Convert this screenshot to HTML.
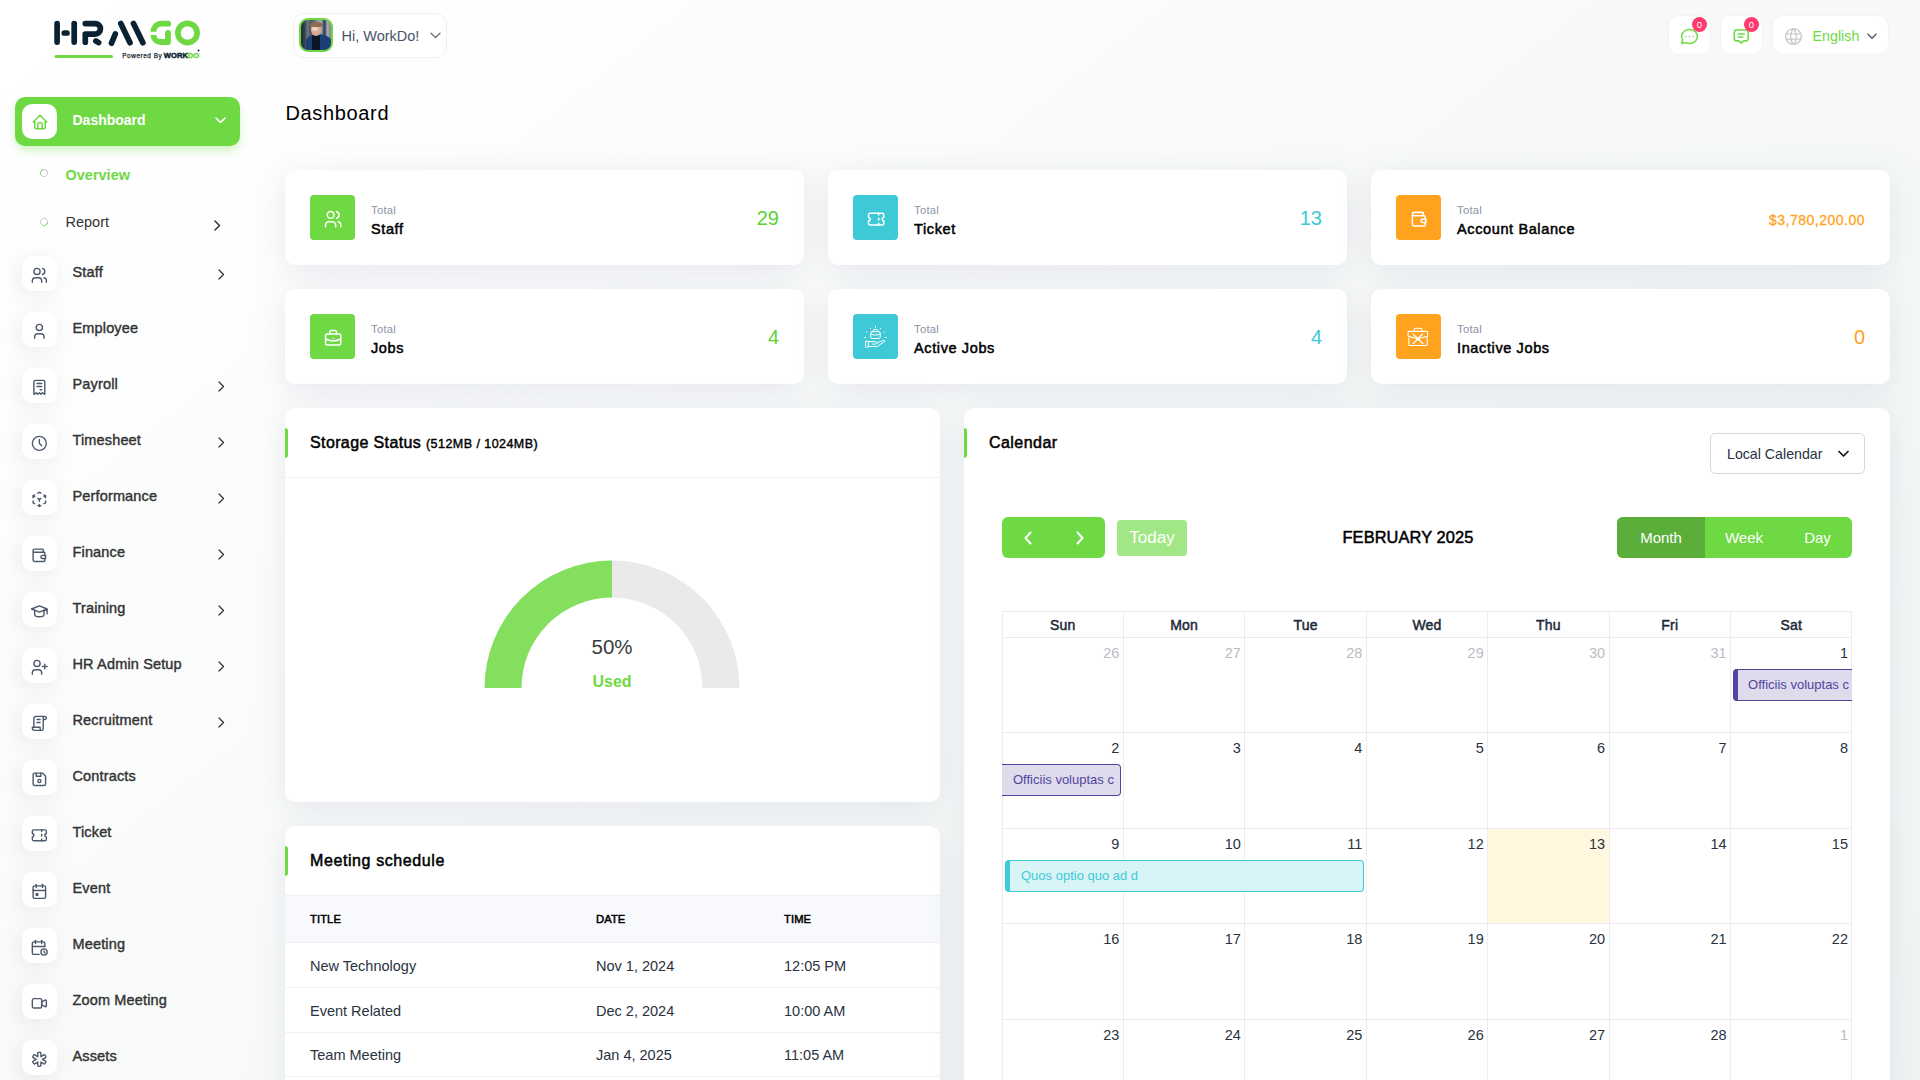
<!DOCTYPE html>
<html><head><meta charset="utf-8"><title>Dashboard</title>
<style>
*{box-sizing:border-box;margin:0;padding:0}
html,body{width:1920px;height:1080px;overflow:hidden}
body{font-family:"Liberation Sans",sans-serif;color:#293240;position:relative;
background:linear-gradient(141.55deg,rgba(240,244,243,0) 3.46%,#f0f4f3 99.86%),#fff;}
.abs{position:absolute}
svg{display:block}
.ic{fill:none;stroke:currentColor;stroke-linecap:round;stroke-linejoin:round}
/* sidebar */
.nav{position:absolute;left:0;height:35px;width:255px}
.nav .box{position:absolute;left:22px;top:0;width:35px;height:35px;border-radius:10px;background:#fff;box-shadow:-3px 4px 23px rgba(0,0,0,.08);color:#4d586c}
.nav .box svg{position:absolute;left:9.5px;top:9.5px}
.nav .t{position:absolute;left:72.5px;top:-1.2px;line-height:35px;font-size:14.5px;font-weight:normal;-webkit-text-stroke:.4px #333;letter-spacing:.15px;color:#333;white-space:nowrap}
.chev{position:absolute}
/* cards */
.card{position:absolute;background:#fff;border-radius:10px;box-shadow:0 6px 30px rgba(182,186,203,.3)}
.stat .ib{position:absolute;left:25px;top:25px;width:45px;height:45px;border-radius:4px;color:#fff}
.stat .ib svg{position:absolute}
.stat .tl{position:absolute;left:86px;top:32.7px;font-size:11.2px;letter-spacing:.3px;color:#8a94a6;line-height:14px}
.stat .nm{position:absolute;left:86px;top:50px;font-size:14.5px;font-weight:normal;-webkit-text-stroke:.5px #000;letter-spacing:.62px;color:#000;line-height:18px;white-space:nowrap}
.stat .v{position:absolute;right:25px;top:35.8px;font-size:20px;line-height:24px}
.g{background:#6fd943}.c{background:#3ec9d6}.o{background:#ffa21d}
.hbar{position:absolute;left:0;width:3px;height:30px;background:#6fd943;border-radius:0 3px 3px 0}
.htitle{position:absolute;font-size:16px;font-weight:normal;-webkit-text-stroke:.5px #000;letter-spacing:.45px;color:#000;white-space:nowrap}

.th{font-size:11.2px;-webkit-text-stroke:.5px #000;color:#000;line-height:14px;letter-spacing:.1px}
.tr{left:0;right:0;height:45px;border-bottom:1px solid #f1f1f1}
.tr span{position:absolute;top:1.8px;line-height:43px;font-size:14.5px;color:#293240;white-space:nowrap}
.calh{height:26px;line-height:28px;text-align:center;font-size:14px;-webkit-text-stroke:.5px #1e2a3a;letter-spacing:.2px;color:#1e2a3a}
.caln{width:56px;text-align:right;font-size:14.5px;line-height:18px}
.ev{overflow:hidden;white-space:nowrap}
.ev span{position:absolute;top:0;line-height:29px;font-size:13px}
</style></head>
<body>
<!-- LOGO -->
<svg class="abs" style="left:0;top:0" width="220" height="70" viewBox="0 0 220 70">
 <g fill="none" stroke="#0b2233" stroke-width="5.7" stroke-linecap="round" stroke-linejoin="round">
  <path d="M57.1 23.5V42.1"/>
  <path d="M64.3 33H67"/>
  <path d="M74.2 23.5V42.1"/>
  <path d="M85.3 23.6H95.2A5.25 5.25 0 0 1 95.2 34.1H85.3V42.2"/>
  <path d="M95.9 41L98.6 42.6"/>
  <path d="M111.5 43.2L115.3 34"/>
  <path d="M120.8 23.5L130 42.7"/>
  <path d="M133.5 23.5L142.9 42.7"/>
 </g>
 <g fill="none" stroke="#6fd943" stroke-width="5.8" stroke-linejoin="round">
  <path d="M168.2 23.7H161.5A8 8 0 0 0 153.5 31.7" stroke-linecap="butt"/>
  <circle cx="168.2" cy="23.7" r="2.9" fill="#6fd943" stroke="none"/>
  <path d="M153.5 35A7 7 0 0 0 160.5 42H168V32.8" stroke-linecap="butt"/>
  <circle cx="168" cy="32.8" r="2.9" fill="#6fd943" stroke="none"/>
  <circle cx="187.5" cy="32.9" r="9.6"/>
  <path d="M56 56.5H111.5" stroke-width="3" stroke-linecap="round"/>
 </g>
 <text x="122.3" y="58.4" font-family="Liberation Sans" font-size="6.4" fill="#1b2a36" stroke="#1b2a36" stroke-width="0.25" textLength="39.5" lengthAdjust="spacing">Powered By</text>
 <text x="163.8" y="58.4" font-family="Liberation Sans" font-size="7.6" font-weight="bold" fill="#0b2233" stroke="#0b2233" stroke-width="0.45" textLength="35.5" lengthAdjust="spacingAndGlyphs">WORK<tspan fill="#6fd943" stroke="#6fd943">DO</tspan></text>
 <circle cx="198.5" cy="50.5" r="1" fill="#0b2233"/>
</svg>

<!-- SIDEBAR -->
<div class="abs" style="left:15px;top:97px;width:225px;height:49px;border-radius:10px;background:#6fd943;box-shadow:0 5px 9px -1px rgba(111,217,67,.35)">
 <div class="abs" style="left:7px;top:7px;width:35px;height:35px;border-radius:10px;background:#fff;color:#6fd943">
  <svg class="ic abs" style="left:8.5px;top:8.5px" width="18" height="18" viewBox="0 0 24 24" stroke-width="2"><path d="M5 12H3l9-9 9 9h-2"/><path d="M5 12v7a2 2 0 0 0 2 2h10a2 2 0 0 0 2-2v-7"/><path d="M9 21v-6a2 2 0 0 1 2-2h2a2 2 0 0 1 2 2v6"/></svg>
 </div>
 <div class="abs" style="left:57.5px;top:0;line-height:47px;font-size:14px;font-weight:bold;color:#fff">Dashboard</div>
 <svg class="abs ic" style="left:200px;top:20px;color:#fff" width="11" height="7" viewBox="0 0 11 7" stroke-width="1.6"><path d="M1 1l4.5 4.5L10 1"/></svg>
</div>

<div class="abs" style="left:40.1px;top:169px;width:7.8px;height:7.8px;border-radius:50%;border:1.9px solid #c8cdd6;border-left-color:#6fd943;transform:rotate(25deg)"></div>
<div class="abs" style="left:65.5px;top:166.5px;font-size:14.5px;font-weight:bold;color:#6fd943;line-height:17px">Overview</div>
<div class="abs" style="left:40.1px;top:217.5px;width:7.8px;height:7.8px;border-radius:50%;border:1.9px solid #c8cdd6;border-bottom-color:#6fd943;transform:rotate(-35deg)"></div>
<div class="abs" style="left:65.5px;top:214px;font-size:14.5px;color:#333;line-height:17px">Report</div>
<svg class="abs ic" style="left:213px;top:219.5px;color:#333" width="8" height="11" viewBox="0 0 8 11" stroke-width="1.5"><path d="M2 1l4.5 4.5L2 10"/></svg>

<div class="nav" style="top:256px"><div class="box"><svg class="ic" style="position:absolute;left:8.4px;top:9.6px;" width="18.7" height="18.7" viewBox="0 0 24 24" stroke-width="1.8"><path d="M5 7a4 4 0 1 0 8 0a4 4 0 1 0-8 0"/><path d="M3 21v-2a4 4 0 0 1 4-4h4a4 4 0 0 1 4 4v2"/><path d="M16 3.13a4 4 0 0 1 0 7.75"/><path d="M21 21v-2a4 4 0 0 0-3-3.85"/></svg></div><div class="t">Staff</div><svg class="chev ic" style="left:217px;top:13.3px;color:#333" width="8" height="11" viewBox="0 0 8 11" stroke-width="1.3"><path d="M2 1l4.5 4.5L2 10"/></svg></div>
<div class="nav" style="top:312px"><div class="box"><svg class="ic" style="position:absolute;left:8.4px;top:9.6px;" width="18.7" height="18.7" viewBox="0 0 24 24" stroke-width="1.8"><path d="M8 7a4 4 0 1 0 8 0a4 4 0 0 0-8 0"/><path d="M6 21v-2a4 4 0 0 1 4-4h4a4 4 0 0 1 4 4v2"/></svg></div><div class="t">Employee</div></div>
<div class="nav" style="top:368px"><div class="box"><svg class="ic" style="position:absolute;left:8.4px;top:9.6px;" width="18.7" height="18.7" viewBox="0 0 24 24" stroke-width="1.8"><path d="M5 21V5a2 2 0 0 1 2-2h10a2 2 0 0 1 2 2v16l-3-2-2 2-2-2-2 2-2-2-3 2m4-14h6m-6 4h6m-2 4h2"/></svg></div><div class="t">Payroll</div><svg class="chev ic" style="left:217px;top:13.3px;color:#333" width="8" height="11" viewBox="0 0 8 11" stroke-width="1.3"><path d="M2 1l4.5 4.5L2 10"/></svg></div>
<div class="nav" style="top:424px"><div class="box"><svg class="ic" style="position:absolute;left:8.4px;top:9.6px;" width="18.7" height="18.7" viewBox="0 0 24 24" stroke-width="1.8"><path d="M3 12a9 9 0 1 0 18 0a9 9 0 0 0-18 0"/><path d="M12 7v5l3 3"/></svg></div><div class="t">Timesheet</div><svg class="chev ic" style="left:217px;top:13.3px;color:#333" width="8" height="11" viewBox="0 0 8 11" stroke-width="1.3"><path d="M2 1l4.5 4.5L2 10"/></svg></div>
<div class="nav" style="top:480px"><div class="box"><svg class="ic" style="position:absolute;left:8.4px;top:9.6px;" width="18.7" height="18.7" viewBox="0 0 24 24" stroke-width="1.8"><path d="M6 17.6l-2-1.1V14"/><path d="M4 10V7.5l2-1.1"/><path d="M10 4.1l2-1.1 2 1.1"/><path d="M18 6.4l2 1.1V10"/><path d="M20 14v2.5l-2 1.12"/><path d="M14 19.9l-2 1.1-2-1.1"/><path d="M12 12l2-1.1"/><path d="M18 8.6l2-1.1"/><path d="M12 12v2.5"/><path d="M12 18.5V21"/><path d="M12 12l-2-1.12"/><path d="M6 8.6L4 7.5"/></svg></div><div class="t">Performance</div><svg class="chev ic" style="left:217px;top:13.3px;color:#333" width="8" height="11" viewBox="0 0 8 11" stroke-width="1.3"><path d="M2 1l4.5 4.5L2 10"/></svg></div>
<div class="nav" style="top:536px"><div class="box"><svg class="ic" style="position:absolute;left:8.4px;top:9.6px;" width="18.7" height="18.7" viewBox="0 0 24 24" stroke-width="1.8"><path d="M17 8V5a1 1 0 0 0-1-1H6a2 2 0 0 0 0 4h12a1 1 0 0 1 1 1v3m0 4v3a1 1 0 0 1-1 1H6a2 2 0 0 1-2-2V6"/><path d="M20 12v4h-4a2 2 0 0 1 0-4h4"/></svg></div><div class="t">Finance</div><svg class="chev ic" style="left:217px;top:13.3px;color:#333" width="8" height="11" viewBox="0 0 8 11" stroke-width="1.3"><path d="M2 1l4.5 4.5L2 10"/></svg></div>
<div class="nav" style="top:592px"><div class="box"><svg class="ic" style="position:absolute;left:8.4px;top:9.6px;" width="18.7" height="18.7" viewBox="0 0 24 24" stroke-width="1.8"><path d="M22 9L12 5 2 9l10 4 10-4v6"/><path d="M6 10.6V16a6 3 0 0 0 12 0v-5.4"/></svg></div><div class="t">Training</div><svg class="chev ic" style="left:217px;top:13.3px;color:#333" width="8" height="11" viewBox="0 0 8 11" stroke-width="1.3"><path d="M2 1l4.5 4.5L2 10"/></svg></div>
<div class="nav" style="top:648px"><div class="box"><svg class="ic" style="position:absolute;left:8.4px;top:9.6px;" width="18.7" height="18.7" viewBox="0 0 24 24" stroke-width="1.8"><path d="M5 7a4 4 0 1 0 8 0a4 4 0 1 0-8 0"/><path d="M3 21v-2a4 4 0 0 1 4-4h4a4 4 0 0 1 4 4v2"/><path d="M16 11h6m-3-3v6"/></svg></div><div class="t">HR Admin Setup</div><svg class="chev ic" style="left:217px;top:13.3px;color:#333" width="8" height="11" viewBox="0 0 8 11" stroke-width="1.3"><path d="M2 1l4.5 4.5L2 10"/></svg></div>
<div class="nav" style="top:704px"><div class="box"><svg class="ic" style="position:absolute;left:8.4px;top:9.6px;" width="18.7" height="18.7" viewBox="0 0 24 24" stroke-width="1.8"><path d="M15 21H6a3 3 0 0 1-3-3v-1h10v2a2 2 0 0 0 4 0V5a2 2 0 1 1 2 2h-2m2-4H8a3 3 0 0 0-3 3v11"/><path d="M9 7h4"/><path d="M9 11h4"/></svg></div><div class="t">Recruitment</div><svg class="chev ic" style="left:217px;top:13.3px;color:#333" width="8" height="11" viewBox="0 0 8 11" stroke-width="1.3"><path d="M2 1l4.5 4.5L2 10"/></svg></div>
<div class="nav" style="top:760px"><div class="box"><svg class="ic" style="position:absolute;left:8.4px;top:9.6px;" width="18.7" height="18.7" viewBox="0 0 24 24" stroke-width="1.8"><path d="M6 4h10l4 4v10a2 2 0 0 1-2 2H6a2 2 0 0 1-2-2V6a2 2 0 0 1 2-2"/><path d="M10 14a2 2 0 1 0 4 0a2 2 0 1 0-4 0"/><path d="M14 4v4H8V4"/></svg></div><div class="t">Contracts</div></div>
<div class="nav" style="top:816px"><div class="box"><svg class="ic" style="position:absolute;left:8.4px;top:9.6px;" width="18.7" height="18.7" viewBox="0 0 24 24" stroke-width="1.8"><path d="M15 5v2"/><path d="M15 11v2"/><path d="M15 17v2"/><path d="M5 5h14a2 2 0 0 1 2 2v3a2 2 0 0 0 0 4v3a2 2 0 0 1-2 2H5a2 2 0 0 1-2-2v-3a2 2 0 0 0 0-4V7a2 2 0 0 1 2-2"/></svg></div><div class="t">Ticket</div></div>
<div class="nav" style="top:872px"><div class="box"><svg class="ic" style="position:absolute;left:8.4px;top:9.6px;" width="18.7" height="18.7" viewBox="0 0 24 24" stroke-width="1.8"><path d="M4 7a2 2 0 0 1 2-2h12a2 2 0 0 1 2 2v12a2 2 0 0 1-2 2H6a2 2 0 0 1-2-2z"/><path d="M16 3v4"/><path d="M8 3v4"/><path d="M4 11h16"/><path d="M8 15h2v2H8z"/></svg></div><div class="t">Event</div></div>
<div class="nav" style="top:928px"><div class="box"><svg class="ic" style="position:absolute;left:8.4px;top:9.6px;" width="18.7" height="18.7" viewBox="0 0 24 24" stroke-width="1.8"><path d="M11.795 21H5a2 2 0 0 1-2-2V7a2 2 0 0 1 2-2h12a2 2 0 0 1 2 2v4"/><path d="M14 18a4 4 0 1 0 8 0a4 4 0 1 0-8 0"/><path d="M15 3v4"/><path d="M7 3v4"/><path d="M3 11h16"/><path d="M18 16.496V18l1 1"/></svg></div><div class="t">Meeting</div></div>
<div class="nav" style="top:984px"><div class="box"><svg class="ic" style="position:absolute;left:8.4px;top:9.6px;" width="18.7" height="18.7" viewBox="0 0 24 24" stroke-width="1.8"><path d="M15 10l4.553-2.276A1 1 0 0 1 21 8.618v6.764a1 1 0 0 1-1.447.894L15 14v-4z"/><path d="M3 8a2 2 0 0 1 2-2h8a2 2 0 0 1 2 2v8a2 2 0 0 1-2 2H5a2 2 0 0 1-2-2z"/></svg></div><div class="t">Zoom Meeting</div></div>
<div class="nav" style="top:1040px"><div class="box"><svg class="ic" style="position:absolute;left:8.4px;top:9.6px;" width="18.7" height="18.7" viewBox="0 0 24 24" stroke-width="1.8"><path d="M13 3a1 1 0 0 1 1 1v4.535l3.928-2.267a1 1 0 0 1 1.366.366l1 1.732a1 1 0 0 1-.366 1.366L16.001 12l3.927 2.269a1 1 0 0 1 .366 1.366l-1 1.732a1 1 0 0 1-1.366.366L14 15.464V20a1 1 0 0 1-1 1h-2a1 1 0 0 1-1-1v-4.536l-3.928 2.268a1 1 0 0 1-1.366-.366l-1-1.732a1 1 0 0 1 .366-1.366L7.999 12 4.072 9.732a1 1 0 0 1-.366-1.366l1-1.732a1 1 0 0 1 1.366-.366L10 8.535V4a1 1 0 0 1 1-1h2z"/></svg></div><div class="t">Assets</div></div>

<!-- HEADER -->
<div class="abs" style="left:293px;top:13px;width:154px;height:45px;border-radius:11px;background:#fff;border:1px solid #f0f0f0">
 <div class="abs" style="left:5.3px;top:4.3px;width:33.5px;height:33.5px;border-radius:9px;border:2px solid #6fd943;overflow:hidden;background:linear-gradient(90deg,#1e2a34 0%,#34414c 12%,#6a7782 22%,#4c5964 32%,#55626c 40%,#8c98a2 55%,#9aa5ae 68%,#2f3a44 78%,#a2acb4 88%,#7d8892 100%)">
  <div class="abs" style="left:4.5px;top:13.5px;width:26px;height:18px;border-radius:45% 50% 0 0;background:#1d3f78"></div>
  <div class="abs" style="left:10.5px;top:14px;width:8px;height:16px;border-radius:30% 30% 0 0;background:#0b1628"></div>
  <div class="abs" style="left:9.3px;top:3.2px;width:10.5px;height:13px;border-radius:45% 45% 50% 50%;background:#d9ab93"></div>
  <div class="abs" style="left:11px;top:6px;width:6px;height:5px;border-radius:50%;background:#efd2c2"></div>
  <div class="abs" style="left:8.8px;top:1.4px;width:11.5px;height:5px;border-radius:50% 50% 25% 25%;background:#8d6c4f"></div>
 </div>
 <div class="abs" style="left:47.5px;top:12px;font-size:14.5px;line-height:20px;color:#48546a;white-space:nowrap">Hi, WorkDo!</div>
 <svg class="abs ic" style="left:135.8px;top:17.8px;color:#6c757d" width="11" height="7" viewBox="0 0 11 7" stroke-width="1.4"><path d="M1 1.2l4.5 4.3L10 1.2"/></svg>
</div>

<div class="abs" style="left:1668px;top:15px;width:43px;height:40px;border-radius:10px;background:#fff;border:1px solid #f3f3f3"></div>
<div class="abs" style="left:1720px;top:15px;width:43px;height:40px;border-radius:10px;background:#fff;border:1px solid #f3f3f3"></div>
<svg class="abs ic" style="left:1679px;top:26px;color:#6fd943" width="21" height="21" viewBox="0 0 24 24" stroke-width="1.7"><path d="M3 20l1.3-3.9C1.976 12.663 2.874 8.228 6.4 5.726c3.526-2.501 8.59-2.296 11.845.48 3.255 2.777 3.695 7.266 1.029 10.501-2.666 3.235-7.615 4.215-11.574 2.293L3 20"/><path d="M12 12v.01M8 12v.01M16 12v.01"/></svg>
<svg class="abs ic" style="left:1732.3px;top:27px;color:#6fd943" width="18.5" height="18.5" viewBox="0 0 24 24" stroke-width="2"><path d="M8 9h8M8 13h6"/><path d="M9 18H6a3 3 0 0 1-3-3V7a3 3 0 0 1 3-3h12a3 3 0 0 1 3 3v8a3 3 0 0 1-3 3h-3l-3 3-3-3z"/></svg>
<div class="abs" style="left:1692px;top:17.3px;width:15px;height:15px;border-radius:50%;background:#ff3a6e;color:#fff;font-size:9.5px;line-height:15px;text-align:center">0</div>
<div class="abs" style="left:1744px;top:17.3px;width:15px;height:15px;border-radius:50%;background:#ff3a6e;color:#fff;font-size:9.5px;line-height:15px;text-align:center">0</div>

<div class="abs" style="left:1772px;top:15px;width:117px;height:40px;border-radius:11px;background:#fff;border:1px solid #f3f3f3">
 <svg class="abs ic" style="left:10.2px;top:9.5px;color:#c7c9cc" width="21" height="21" viewBox="0 0 24 24" stroke-width="1.6"><path d="M3 12a9 9 0 1 0 18 0 9 9 0 0 0-18 0M3.6 9h16.8M3.6 15h16.8M11.5 3a17 17 0 0 0 0 18M12.5 3a17 17 0 0 1 0 18"/></svg>
 <div class="abs" style="left:39.5px;top:10px;font-size:14.3px;line-height:20px;color:#6fd943">English</div>
 <svg class="abs ic" style="left:94px;top:17px;color:#525b69" width="10" height="7" viewBox="0 0 10 7" stroke-width="1.4"><path d="M1 1.2l4 4l4-4"/></svg>
</div>

<!-- TITLE -->
<div class="abs" style="left:285.5px;top:100.7px;font-size:20px;letter-spacing:.65px;line-height:24px;color:#000">Dashboard</div>

<div class="card stat" style="left:285px;top:170px;width:519px;height:95px"><div class="ib g"><svg class="ic" style="position:absolute;left:12.5px;top:14.1px;" width="20.3" height="20.3" viewBox="0 0 24 24" stroke-width="1.8"><path d="M5 7a4 4 0 1 0 8 0a4 4 0 1 0-8 0"/><path d="M3 21v-2a4 4 0 0 1 4-4h4a4 4 0 0 1 4 4v2"/><path d="M16 3.13a4 4 0 0 1 0 7.75"/><path d="M21 21v-2a4 4 0 0 0-3-3.85"/></svg></div><div class="tl">Total</div><div class="nm">Staff</div><div class="v" style="color:#5cd235;">29</div></div>
<div class="card stat" style="left:828px;top:170px;width:519px;height:95px"><div class="ib c"><svg class="ic" style="position:absolute;left:13.4px;top:14.1px;" width="20.3" height="20.3" viewBox="0 0 24 24" stroke-width="1.8"><path d="M15 5v2"/><path d="M15 11v2"/><path d="M15 17v2"/><path d="M5 5h14a2 2 0 0 1 2 2v3a2 2 0 0 0 0 4v3a2 2 0 0 1-2 2H5a2 2 0 0 1-2-2v-3a2 2 0 0 0 0-4V7a2 2 0 0 1 2-2"/></svg></div><div class="tl">Total</div><div class="nm">Ticket</div><div class="v" style="color:#3ec9d6;">13</div></div>
<div class="card stat" style="left:1371px;top:170px;width:519px;height:95px"><div class="ib o"><svg class="ic" style="position:absolute;left:12.5px;top:14.1px;" width="20.3" height="20.3" viewBox="0 0 24 24" stroke-width="1.8"><path d="M17 8V5a1 1 0 0 0-1-1H6a2 2 0 0 0 0 4h12a1 1 0 0 1 1 1v3m0 4v3a1 1 0 0 1-1 1H6a2 2 0 0 1-2-2V6"/><path d="M20 12v4h-4a2 2 0 0 1 0-4h4"/></svg></div><div class="tl">Total</div><div class="nm">Account Balance</div><div class="v" style="color:#ffa21d;font-size:14px;letter-spacing:.5px;top:37.5px;-webkit-text-stroke:.3px #ffa21d;">$3,780,200.00</div></div>
<div class="card stat" style="left:285px;top:289px;width:519px;height:95px"><div class="ib g"><svg class="ic" style="position:absolute;left:12.5px;top:14.1px;" width="20.3" height="20.3" viewBox="0 0 24 24" stroke-width="1.8"><path d="M3 9a2 2 0 0 1 2-2h14a2 2 0 0 1 2 2v9a2 2 0 0 1-2 2H5a2 2 0 0 1-2-2z"/><path d="M8 7V5a2 2 0 0 1 2-2h4a2 2 0 0 1 2 2v2"/><path d="M3 13a20 20 0 0 0 18 0"/><path d="M12 12v.01"/></svg></div><div class="tl">Total</div><div class="nm">Jobs</div><div class="v" style="color:#5cd235;">4</div></div>
<div class="card stat" style="left:828px;top:289px;width:519px;height:95px"><div class="ib c"><svg class="ic" style="position:absolute;left:0;top:0" width="45" height="45" viewBox="0 0 45 45" stroke-width="1.0"><rect x="17.8" y="17.6" width="9.4" height="6.8" rx="1.2"/><path d="M20.3 17.4v-.9a1 1 0 0 1 1-1h2.4a1 1 0 0 1 1 1v.9"/><path d="M18.1 20.2Q22.5 22.6 26.9 20.2"/><path d="M22.5 12.2v1.4M17.5 14.3v.3M27.5 14.3v.3M13.4 17.5l.6.8M31.6 17.5l-.6.8M11.7 23.5h1M32.3 23.5h1"/><rect x="12.6" y="27.3" width="2.8" height="6" rx=".5"/><path d="M15.4 27.6H22.6c.8 0 1.4.6 1.4 1.3s-.6 1.2-1.4 1.2H19.3"/><path d="M24 29l6.6-2.8c.9-.4 1.6.6.9 1.3L25 32c-.3.3-.7.5-1.2.5H15.4"/></svg></div><div class="tl">Total</div><div class="nm">Active Jobs</div><div class="v" style="color:#3ec9d6;">4</div></div>
<div class="card stat" style="left:1371px;top:289px;width:519px;height:95px"><div class="ib o"><svg class="ic" style="position:absolute;left:0;top:0" width="45" height="45" viewBox="0 0 45 45" stroke-width="1.15"><path d="M18.2 17.1v-1.6a1.3 1.3 0 0 1 1.3-1.3h5a1.3 1.3 0 0 1 1.3 1.3v1.6"/><path d="M13.4 17.3h17.4a.8.8 0 0 1 .8.8v3.6c0 .5-.3.8-.8.9l-7.5 1.6h-2.8l-7.6-1.6c-.5-.1-.8-.4-.8-.9v-3.6a.8.8 0 0 1 .8-.8z"/><path d="M12.8 24.3v6.2a1 1 0 0 0 1 1h16.4a1 1 0 0 0 1-1v-6.2"/><path d="M17.3 20.2l9.4 9.2M26.3 20.2l-9 9.2" stroke-width="1.4"/><rect x="20.3" y="23.2" width="3.3" height="3.2" fill="#fff" stroke="none"/></svg></div><div class="tl">Total</div><div class="nm">Inactive Jobs</div><div class="v" style="color:#ffa21d;">0</div></div>
<div class="card" style="left:285px;top:408px;width:655px;height:394px">
 <div class="hbar" style="top:20px"></div>
 <div class="htitle" style="left:25px;top:25px;line-height:20px;font-size:16px;letter-spacing:.38px">Storage Status <span style="font-size:12.5px;letter-spacing:.45px;-webkit-text-stroke:.4px #000">(512MB / 1024MB)</span></div>
 <div class="abs" style="left:0;right:0;top:69px;height:1px;background:#f1f1f1"></div>
 <svg class="abs" style="left:0;top:0" width="655" height="394">
  <path d="M199.5 280A127.5 127.5 0 0 1 327 152.5V189.5A90.5 90.5 0 0 0 236.5 280Z" fill="#85df5f"/>
  <path d="M327 152.5A127.5 127.5 0 0 1 454.5 280H417.5A90.5 90.5 0 0 0 327 189.5Z" fill="#eaeaea"/>
 </svg>
 <div class="abs" style="left:227px;width:200px;top:227.2px;text-align:center;font-size:20.5px;line-height:24px;color:#373d3f">50%</div>
 <div class="abs" style="left:227px;width:200px;top:264px;text-align:center;font-size:16px;font-weight:bold;line-height:20px;color:#6fd943">Used</div>
</div>
<div class="card" style="left:285px;top:826px;width:655px;height:400px;overflow:hidden">
 <div class="hbar" style="top:20px"></div>
 <div class="htitle" style="left:25px;top:25px;line-height:20px;letter-spacing:.6px">Meeting schedule</div>
 <div class="abs" style="left:0;right:0;top:69px;height:48px;background:#f8f9fd;border-top:1px solid #f1f1f1;border-bottom:1px solid #f1f1f1"></div>
 <div class="abs th" style="left:25px;top:86px">TITLE</div>
 <div class="abs th" style="left:311px;top:86px">DATE</div>
 <div class="abs th" style="left:499px;top:86px">TIME</div>
 <div class="abs tr" style="top:117px"><span style="left:25px">New Technology</span><span style="left:311px">Nov 1, 2024</span><span style="left:499px">12:05 PM</span></div>
<div class="abs tr" style="top:162px"><span style="left:25px">Event Related</span><span style="left:311px">Dec 2, 2024</span><span style="left:499px">10:00 AM</span></div>
<div class="abs tr" style="top:206px"><span style="left:25px">Team Meeting</span><span style="left:311px">Jan 4, 2025</span><span style="left:499px">11:05 AM</span></div>
<div class="abs tr" style="top:250px"><span style="left:25px">Meeting</span><span style="left:311px">Feb 1, 2025</span><span style="left:499px">10:00 AM</span></div>
</div>
<div class="card" style="left:964px;top:408px;width:926px;height:760px">
 <div class="hbar" style="top:20px"></div>
 <div class="htitle" style="left:25px;top:24.8px;line-height:20px">Calendar</div>
 <div class="abs" style="left:746px;top:25px;width:155px;height:41px;border:1px solid #d5d9de;border-radius:5px;background:#fff">
  <div class="abs" style="left:16px;top:10px;font-size:14.2px;line-height:20px;color:#293240;white-space:nowrap">Local Calendar</div>
  <svg class="abs ic" style="left:127px;top:16px;color:#111" width="11" height="8" viewBox="0 0 11 8" stroke-width="1.7"><path d="M1 1.5l4.5 4.5L10 1.5"/></svg>
 </div>
 <div class="abs" style="left:38px;top:109px;width:103px;height:41px;border-radius:6px;background:#6fd943">
  <svg class="abs ic" style="left:21px;top:13.5px;color:#fff" width="10" height="14" viewBox="0 0 10 14" stroke-width="2"><path d="M7.5 1.5L2.5 7l5 5.5"/></svg>
  <svg class="abs ic" style="left:72.5px;top:13.5px;color:#fff" width="10" height="14" viewBox="0 0 10 14" stroke-width="2"><path d="M2.5 1.5L7.5 7l-5 5.5"/></svg>
 </div>
 <div class="abs" style="left:153px;top:112px;width:70px;height:36px;border-radius:4px;background:#a2e786;color:#fff;font-size:17px;line-height:36px;text-align:center">Today</div>
 <div class="abs" style="left:344px;width:200px;top:119.4px;text-align:center;font-size:16.4px;-webkit-text-stroke:.5px #000;letter-spacing:.1px;line-height:20px;color:#000">FEBRUARY 2025</div>
 <div class="abs" style="left:653px;top:109px;width:235px;height:41px;border-radius:6px;background:#6fd943;overflow:hidden;color:#fff;font-size:15px;line-height:41px">
  <div class="abs" style="left:0;top:0;width:88px;height:41px;background:#5bae39;text-align:center">Month</div>
  <div class="abs" style="left:88px;top:0;width:78px;height:41px;text-align:center">Week</div>
  <div class="abs" style="left:166px;top:0;width:69px;height:41px;text-align:center">Day</div>
 </div>
 <div class="abs" style="left:38px;top:203px;width:850px;height:700px;border:1px solid #ececf0;border-bottom:none"></div>
<div class="abs calh" style="left:38.00px;top:203px;width:121.43px">Sun</div>
<div class="abs calh" style="left:159.43px;top:203px;width:121.43px">Mon</div>
<div class="abs calh" style="left:280.86px;top:203px;width:121.43px">Tue</div>
<div class="abs calh" style="left:402.29px;top:203px;width:121.43px">Wed</div>
<div class="abs calh" style="left:523.71px;top:203px;width:121.43px">Thu</div>
<div class="abs calh" style="left:645.14px;top:203px;width:121.43px">Fri</div>
<div class="abs calh" style="left:766.57px;top:203px;width:121.43px">Sat</div>
<div class="abs" style="left:158.93px;top:203px;width:1px;height:700px;background:#ececf0"></div>
<div class="abs" style="left:280.36px;top:203px;width:1px;height:700px;background:#ececf0"></div>
<div class="abs" style="left:401.79px;top:203px;width:1px;height:700px;background:#ececf0"></div>
<div class="abs" style="left:523.21px;top:203px;width:1px;height:700px;background:#ececf0"></div>
<div class="abs" style="left:644.64px;top:203px;width:1px;height:700px;background:#ececf0"></div>
<div class="abs" style="left:766.07px;top:203px;width:1px;height:700px;background:#ececf0"></div>
<div class="abs" style="left:38px;top:229.0px;width:850px;height:1px;background:#ececf0"></div>
<div class="abs" style="left:38px;top:324.0px;width:850px;height:1px;background:#ececf0"></div>
<div class="abs" style="left:38px;top:419.5px;width:850px;height:1px;background:#ececf0"></div>
<div class="abs" style="left:38px;top:515.0px;width:850px;height:1px;background:#ececf0"></div>
<div class="abs" style="left:38px;top:610.5px;width:850px;height:1px;background:#ececf0"></div>
<div class="abs" style="left:38px;top:706.0px;width:850px;height:1px;background:#ececf0"></div>
<div class="abs" style="left:524.21px;top:420.5px;width:120.43px;height:94.5px;background:#fff8de"></div>
<div class="abs caln" style="left:99.43px;top:236.0px;color:#b9bcc2">26</div>
<div class="abs caln" style="left:220.86px;top:236.0px;color:#b9bcc2">27</div>
<div class="abs caln" style="left:342.29px;top:236.0px;color:#b9bcc2">28</div>
<div class="abs caln" style="left:463.71px;top:236.0px;color:#b9bcc2">29</div>
<div class="abs caln" style="left:585.14px;top:236.0px;color:#b9bcc2">30</div>
<div class="abs caln" style="left:706.57px;top:236.0px;color:#b9bcc2">31</div>
<div class="abs caln" style="left:828.00px;top:236.0px;color:#293240">1</div>
<div class="abs caln" style="left:99.43px;top:331.0px;color:#293240">2</div>
<div class="abs caln" style="left:220.86px;top:331.0px;color:#293240">3</div>
<div class="abs caln" style="left:342.29px;top:331.0px;color:#293240">4</div>
<div class="abs caln" style="left:463.71px;top:331.0px;color:#293240">5</div>
<div class="abs caln" style="left:585.14px;top:331.0px;color:#293240">6</div>
<div class="abs caln" style="left:706.57px;top:331.0px;color:#293240">7</div>
<div class="abs caln" style="left:828.00px;top:331.0px;color:#293240">8</div>
<div class="abs caln" style="left:99.43px;top:426.5px;color:#293240">9</div>
<div class="abs caln" style="left:220.86px;top:426.5px;color:#293240">10</div>
<div class="abs caln" style="left:342.29px;top:426.5px;color:#293240">11</div>
<div class="abs caln" style="left:463.71px;top:426.5px;color:#293240">12</div>
<div class="abs caln" style="left:585.14px;top:426.5px;color:#293240">13</div>
<div class="abs caln" style="left:706.57px;top:426.5px;color:#293240">14</div>
<div class="abs caln" style="left:828.00px;top:426.5px;color:#293240">15</div>
<div class="abs caln" style="left:99.43px;top:522.0px;color:#293240">16</div>
<div class="abs caln" style="left:220.86px;top:522.0px;color:#293240">17</div>
<div class="abs caln" style="left:342.29px;top:522.0px;color:#293240">18</div>
<div class="abs caln" style="left:463.71px;top:522.0px;color:#293240">19</div>
<div class="abs caln" style="left:585.14px;top:522.0px;color:#293240">20</div>
<div class="abs caln" style="left:706.57px;top:522.0px;color:#293240">21</div>
<div class="abs caln" style="left:828.00px;top:522.0px;color:#293240">22</div>
<div class="abs caln" style="left:99.43px;top:617.5px;color:#293240">23</div>
<div class="abs caln" style="left:220.86px;top:617.5px;color:#293240">24</div>
<div class="abs caln" style="left:342.29px;top:617.5px;color:#293240">25</div>
<div class="abs caln" style="left:463.71px;top:617.5px;color:#293240">26</div>
<div class="abs caln" style="left:585.14px;top:617.5px;color:#293240">27</div>
<div class="abs caln" style="left:706.57px;top:617.5px;color:#293240">28</div>
<div class="abs caln" style="left:828.00px;top:617.5px;color:#b9bcc2">1</div>
<div class="abs ev" style="left:769.07px;top:261px;width:118.93px;height:32px;background:#dedbed;border:1.5px solid #51459d;border-right:none;border-left:5px solid #51459d;border-radius:4px 0 0 4px;color:#51459d"><span style="left:10px">Officiis voluptas c</span></div>
<div class="abs ev" style="left:38px;top:356px;width:118.93px;height:32px;background:#dedbed;border:1.5px solid #51459d;border-left:none;border-radius:0 4px 4px 0;color:#51459d"><span style="left:11px">Officiis voluptas c</span></div>
<div class="abs ev" style="left:41px;top:452px;width:359.29px;height:32px;background:#d9f4f7;border:1.5px solid #3ec9d6;border-left:5px solid #3ec9d6;border-radius:4px;color:#3ec9d6"><span style="left:11px">Quos optio quo ad d</span></div>
</div>

</body></html>
